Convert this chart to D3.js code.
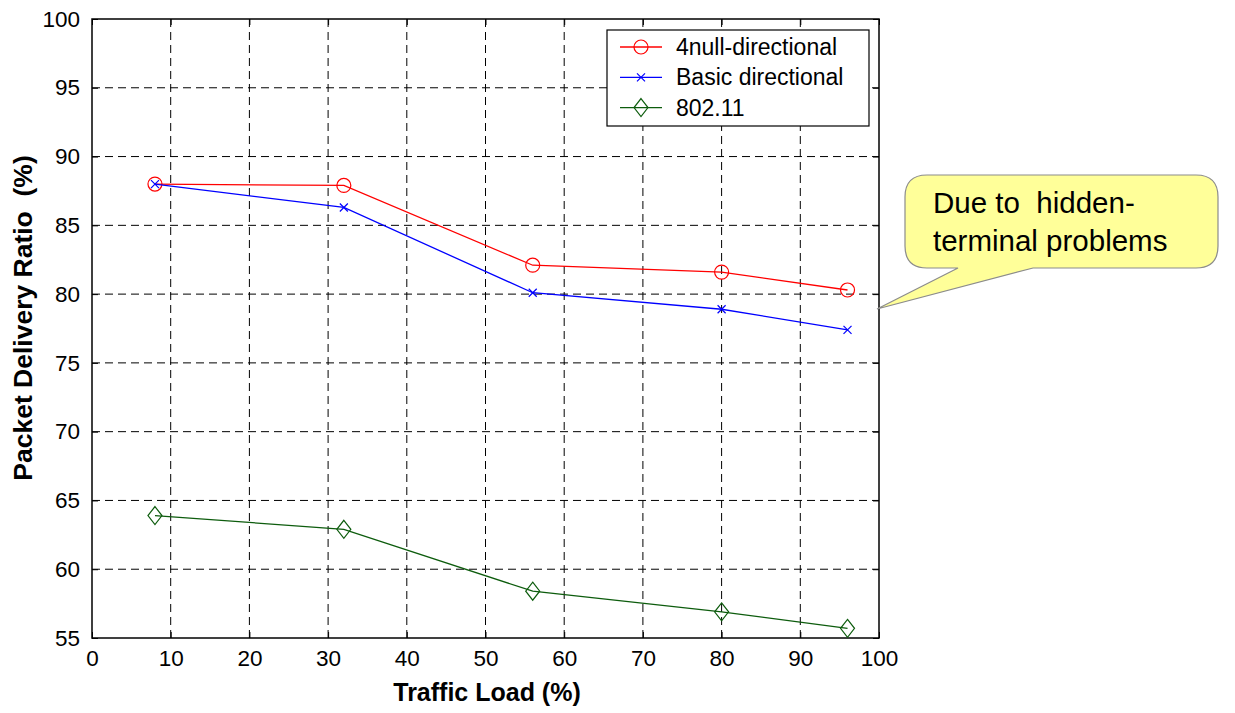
<!DOCTYPE html>
<html>
<head>
<meta charset="utf-8">
<script src="https://cdn.jsdelivr.net/npm/d3@7"></script>
<style>
  body { margin: 0; background: #fff; }
  text { font-family: "Liberation Sans", Arial, sans-serif; }
</style>
</head>
<body>
<svg id="chart" width="1235" height="713"></svg>
<script>
const loads = [8, 32, 56, 80, 96];
const nullDirectional = [88.0, 87.9, 82.1, 81.6, 80.3];
const basicDirectional = [88.0, 86.3, 80.1, 78.9, 77.4];
const dot11 = [63.9, 62.9, 58.4, 56.9, 55.7];
const xTicks = [0, 10, 20, 30, 40, 50, 60, 70, 80, 90, 100];
const yTicks = [55, 60, 65, 70, 75, 80, 85, 90, 95, 100];
const seriesNames = ['4null-directional', 'Basic directional', '802.11'];
const calloutLines = ['Due to  hidden-', 'terminal problems'];

document.addEventListener('DOMContentLoaded', () => {
  const svg = d3.select('#chart');
  const plot = { left: 92, right: 879, top: 19, bottom: 638 };

  const x = d3.scaleLinear().domain([0, 100]).range([plot.left, plot.right]);
  const y = d3.scaleLinear().domain([55, 100]).range([plot.bottom, plot.top]);

  // grid
  svg.append('g')
    .selectAll('line')
    .data(xTicks.slice(1, -1))
    .enter()
    .append('line')
    .attr('x1', d => x(d)).attr('x2', d => x(d))
    .attr('y1', plot.top).attr('y2', plot.bottom)
    .style('stroke', '#000')
    .style('stroke-dasharray', '8,5')
    .style('stroke-width', 1);
  svg.append('g')
    .selectAll('line')
    .data(yTicks.slice(1, -1))
    .enter()
    .append('line')
    .attr('y1', d => y(d)).attr('y2', d => y(d))
    .attr('x1', plot.left).attr('x2', plot.right)
    .style('stroke', '#000')
    .style('stroke-dasharray', '8,5')
    .style('stroke-width', 1);

  // axes (ticks inward, like matlab)
  const axisStyle = (g) => {
    g.select('.domain').remove();
    g.selectAll('text')
      .style('font-size', '22.5px')
      .style('font-family', '"Liberation Sans", Arial, sans-serif')
      .attr('fill', '#000');
    g.selectAll('line').attr('stroke', '#000');
  };
  svg.append('g')
    .attr('transform', `translate(0,${plot.bottom})`)
    .call(d3.axisBottom(x).tickValues(xTicks).tickSizeInner(-6).tickPadding(12))
    .call(axisStyle);
  svg.append('g')
    .attr('transform', `translate(${plot.left},0)`)
    .call(d3.axisLeft(y).tickValues(yTicks).tickSizeInner(-6).tickPadding(12))
    .call(axisStyle);
  svg.append('g')
    .attr('transform', `translate(0,${plot.top})`)
    .call(d3.axisTop(x).tickValues(xTicks).tickSizeInner(-6).tickFormat(''))
    .call(axisStyle);
  svg.append('g')
    .attr('transform', `translate(${plot.right},0)`)
    .call(d3.axisRight(y).tickValues(yTicks).tickSizeInner(-6).tickFormat(''))
    .call(axisStyle);

  svg.append('rect')
    .attr('x', plot.left).attr('y', plot.top)
    .attr('width', plot.right - plot.left)
    .attr('height', plot.bottom - plot.top)
    .style('fill', 'none')
    .style('stroke', '#000')
    .style('stroke-width', 1.5);

  // markers
  const drawMarker = (g, type, color, cx, cy) => {
    if (type === 'circle') {
      g.append('circle')
        .attr('cx', cx).attr('cy', cy).attr('r', 7)
        .style('fill', 'none').style('stroke', color).style('stroke-width', 1.2);
    } else if (type === 'x') {
      g.append('path')
        .attr('d', `M${cx - 4},${cy - 4}L${cx + 4},${cy + 4}M${cx - 4},${cy + 4}L${cx + 4},${cy - 4}`)
        .style('stroke', color).style('stroke-width', 1.2);
    } else {
      g.append('path')
        .attr('d', `M${cx},${cy - 9}L${cx + 7},${cy}L${cx},${cy + 9}L${cx - 7},${cy}Z`)
        .style('fill', 'none').style('stroke', color).style('stroke-width', 1.2);
    }
  };

  const series = [
    { name: seriesNames[0], values: nullDirectional, color: '#ff0000', marker: 'circle' },
    { name: seriesNames[1], values: basicDirectional, color: '#0000ff', marker: 'x' },
    { name: seriesNames[2], values: dot11, color: '#0d5c0d', marker: 'diamond' },
  ];

  const line = d3.line().x(d => x(d[0])).y(d => y(d[1]));

  series.forEach((s) => {
    const g = svg.append('g');
    const pts = loads.map((l, i) => [l, s.values[i]]);
    g.append('path')
      .attr('d', line(pts))
      .style('fill', 'none')
      .style('stroke', s.color)
      .style('stroke-width', 1.3);
    pts.forEach((p) => { drawMarker(g, s.marker, s.color, x(p[0]), y(p[1])); });
  });

  // legend
  const legend = svg.append('g');
  legend.append('rect')
    .attr('x', 607).attr('y', 30)
    .attr('width', 262).attr('height', 96)
    .style('fill', '#fff')
    .style('stroke', '#000')
    .style('stroke-width', 1.2);
  series.forEach((s, i) => {
    const ly = 47 + (i * 30.3);
    legend.append('line')
      .attr('x1', 620).attr('x2', 662)
      .attr('y1', ly).attr('y2', ly)
      .style('stroke', s.color).style('stroke-width', 1.3);
    drawMarker(legend, s.marker, s.color, 641, ly);
    legend.append('text')
      .attr('x', 676).attr('y', ly + 8)
      .style('font-size', '23px')
      .text(s.name);
  });

  // axis titles
  svg.append('text')
    .attr('x', 487)
    .attr('y', 701)
    .attr('text-anchor', 'middle')
    .style('font-size', '25px')
    .style('font-weight', 'bold')
    .text('Traffic Load (%)');
  svg.append('text')
    .attr('transform', 'translate(32,318) rotate(-90)')
    .attr('text-anchor', 'middle')
    .style('font-size', '26.5px')
    .style('font-weight', 'bold')
    .style('white-space', 'pre')
    .text('Packet Delivery Ratio  (%)');

  // callout
  const cx0 = 905, cx1 = 1218, cy0 = 175, cy1 = 268, r = 22;
  const tipX = 877, tipY = 309;
  const callout = [
    `M${cx0 + r},${cy0}`,
    `L${cx1 - r},${cy0}`,
    `Q${cx1},${cy0} ${cx1},${cy0 + r}`,
    `L${cx1},${cy1 - r}`,
    `Q${cx1},${cy1} ${cx1 - r},${cy1}`,
    `L1033,${cy1}`,
    `L${tipX},${tipY}`,
    `L958,${cy1}`,
    `L${cx0 + r},${cy1}`,
    `Q${cx0},${cy1} ${cx0},${cy1 - r}`,
    `L${cx0},${cy0 + r}`,
    `Q${cx0},${cy0} ${cx0 + r},${cy0}`,
    'Z',
  ].join('');
  svg.append('path')
    .attr('d', callout)
    .style('fill', '#ffff99')
    .style('stroke', '#8c8c8c')
    .style('stroke-width', 1.2);
  svg.append('g')
    .selectAll('text')
    .data(calloutLines)
    .enter()
    .append('text')
    .attr('x', 933)
    .attr('y', (d, i) => 213 + (i * 37.5))
    .style('font-size', '29.5px')
    .style('white-space', 'pre')
    .text(d => d);
});
</script>
</body>
</html>
